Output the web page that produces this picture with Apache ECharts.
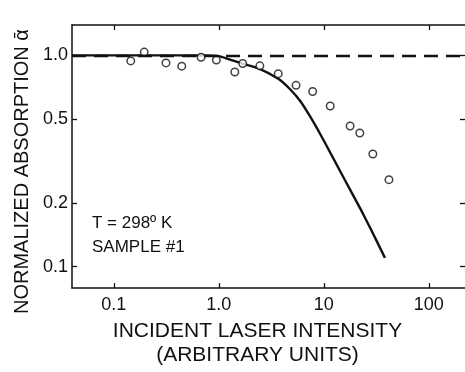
<!DOCTYPE html>
<html>
<head>
<meta charset="utf-8">
<script src="https://cdn.jsdelivr.net/npm/echarts@6.0.0/dist/echarts.min.js"></script>
<style>
  html, body { margin: 0; padding: 0; background: #fff; }
  #chart { width: 465px; height: 372px; }
</style>
</head>
<body>
<div id="chart"></div>
<script>
'use strict';

// measured points (open circles)
var pointX = [0.145, 0.195, 0.314, 0.444, 0.678, 0.948, 1.42, 1.69, 2.46, 3.68, 5.44, 7.83, 11.5, 17.8, 22.0, 29.3, 41.7];
var pointY = [0.941, 1.036, 0.921, 0.889, 0.979, 0.951, 0.834, 0.915, 0.892, 0.819, 0.721, 0.674, 0.576, 0.463, 0.429, 0.341, 0.258];

// theory curve (solid line)
var curveX = [0.04, 0.3, 0.7, 1.0, 1.24, 1.66, 2.39, 3.68, 4.80, 5.98, 7.45, 9.29, 11.6, 14.4, 17.9, 22.4, 27.9, 38.2];
var curveY = [1.0, 1.0, 0.999, 0.992, 0.960, 0.915, 0.868, 0.774, 0.689, 0.606, 0.511, 0.422, 0.344, 0.281, 0.230, 0.187, 0.151, 0.110];

// tick labels
var xTicks = [0.1, 1, 10, 100];
var xTickLabels = ['0.1', '1.0', '10', '100'];
var yTicks = [0.1, 0.2, 0.5, 1];
var yTickLabels = ['0.1', '0.2', '0.5', '1.0'];

var ink = '#111';
var font = 'Liberation Sans';

function zip(xs, ys) {
  var out = [];
  for (var i = 0; i < xs.length; i++) out.push([xs[i], ys[i]]);
  return out;
}

function labelFor(ticks, labels) {
  return function (v) {
    for (var i = 0; i < ticks.length; i++) {
      if (Math.abs(v - ticks[i]) / ticks[i] < 1e-6) return labels[i];
    }
    return '';
  };
}

var chart = echarts.init(document.getElementById('chart'), null, { renderer: 'canvas' });

var tickStyle = { show: true, inside: true, length: 5, lineStyle: { color: ink, width: 1.3 } };
var lineStyle = { color: ink, width: 1.5 };

var option = {
  backgroundColor: '#fff',
  animation: false,
  textStyle: { fontFamily: font, color: ink },
  grid: { left: 72, right: 0, top: 25, bottom: 78 },
  xAxis: [{
    type: 'log',
    logBase: 10,
    min: 0.04,
    max: 221,
    position: 'bottom',
    axisLine: { show: true, lineStyle: lineStyle },
    axisTick: Object.assign({ customValues: xTicks }, tickStyle),
    axisLabel: {
      customValues: xTicks,
      formatter: labelFor(xTicks, xTickLabels),
      fontSize: 18, color: ink, fontFamily: font, margin: 8
    },
    splitLine: { show: false },
    minorTick: { show: false },
    name: 'INCIDENT LASER INTENSITY\n(ARBITRARY UNITS)',
    nameLocation: 'middle',
    nameGap: 25,
    nameTextStyle: {
      fontSize: 21, color: ink, fontFamily: font, lineHeight: 24,
      verticalAlign: 'top', padding: [0, 22, 0, 0]
    }
  }, {
    type: 'log',
    logBase: 10,
    min: 0.04,
    max: 221,
    position: 'top',
    axisLine: { show: true, lineStyle: lineStyle },
    axisTick: Object.assign({ customValues: xTicks }, tickStyle),
    axisLabel: { show: false },
    splitLine: { show: false }
  }],
  yAxis: [{
    type: 'log',
    logBase: 10,
    min: 0.0791,
    max: 1.392,
    position: 'left',
    axisLine: { show: true, lineStyle: lineStyle },
    axisTick: Object.assign({ customValues: yTicks }, tickStyle),
    axisLabel: {
      customValues: yTicks,
      formatter: labelFor(yTicks, yTickLabels),
      fontSize: 18, color: ink, fontFamily: font, margin: 4
    },
    splitLine: { show: false },
    name: 'NORMALIZED ABSORPTION \u1FB1',
    nameLocation: 'middle',
    nameGap: 40,
    nameRotate: 90,
    nameTextStyle: { fontSize: 20, color: ink, fontFamily: font, padding: [0, 30, 0, 0] }
  }, {
    type: 'log',
    logBase: 10,
    min: 0.0791,
    max: 1.392,
    position: 'right',
    axisLine: { show: false },
    axisTick: Object.assign({ customValues: yTicks }, tickStyle),
    axisLabel: { show: false },
    splitLine: { show: false }
  }],
  graphic: [
    { type: 'text', left: 92, top: 215, style: { text: 'T = 298\u00BA K', font: '17px ' + font, fill: ink } },
    { type: 'text', left: 92, top: 239, style: { text: 'SAMPLE #1', font: '17px ' + font, fill: ink } }
  ],
  series: [{
    name: 'theory',
    type: 'line',
    data: zip(curveX, curveY),
    smooth: 0.25,
    showSymbol: false,
    symbol: 'none',
    lineStyle: { color: ink, width: 2.4 },
    z: 3,
    markLine: {
      silent: true,
      symbol: ['none', 'none'],
      label: { show: false },
      lineStyle: { color: ink, width: 2.4, type: [14, 8] },
      data: [{ yAxis: 1.0 }]
    }
  }, {
    name: 'measured',
    type: 'scatter',
    data: zip(pointX, pointY),
    symbol: 'circle',
    symbolSize: 7.5,
    itemStyle: { color: '#fff', borderColor: ink, borderWidth: 1.5 },
    z: 4
  }]
};

chart.setOption(option);
</script>
</body>
</html>
